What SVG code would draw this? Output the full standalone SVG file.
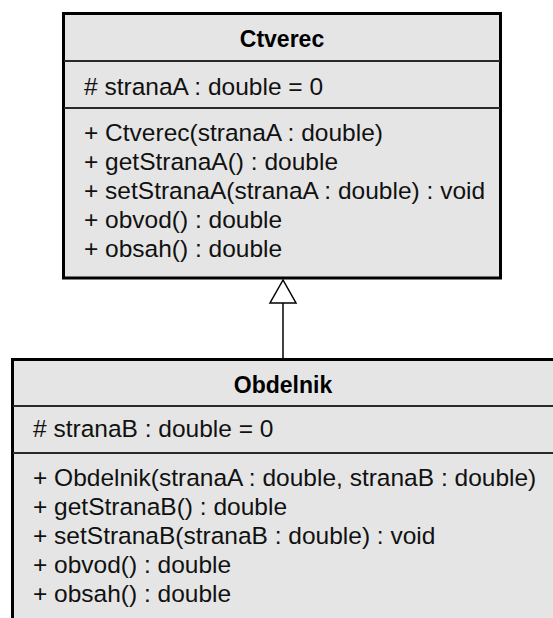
<svg xmlns="http://www.w3.org/2000/svg" width="553" height="618" viewBox="0 0 553 618">
  <style>
    .box { fill: #e5e5e5; stroke: #000; stroke-width: 3; }
    .sep { stroke: #2a2a2a; stroke-width: 2; }
    .name { font-family: "Liberation Sans", Arial, sans-serif; font-size: 23px; font-weight: bold; fill: #000; text-anchor: middle; }
    .member { font-family: "Liberation Sans", Arial, sans-serif; font-size: 24.5px; fill: #111; }
    .link { stroke: #000; stroke-width: 1.5; fill: none; }
    .head { stroke: #000; stroke-width: 1.5; fill: #fff; }
  </style>
  <rect width="553" height="618" fill="#fff"/>

  <!-- Parent class -->
  <g id="ctverec">
    <rect class="box" x="63.5" y="13.5" width="437" height="264.5"/>
    <line class="sep" x1="64" y1="61" x2="500" y2="61"/>
    <line class="sep" x1="64" y1="108" x2="500" y2="108"/>
    <text class="name" x="282" y="47">Ctverec</text>
    <text class="member" x="84" y="95"># stranaA : double = 0</text>
    <text class="member" x="84" y="141">+ Ctverec(stranaA : double)</text>
    <text class="member" x="84" y="170">+ getStranaA() : double</text>
    <text class="member" x="84" y="199">+ setStranaA(stranaA : double) : void</text>
    <text class="member" x="84" y="228">+ obvod() : double</text>
    <text class="member" x="84" y="257">+ obsah() : double</text>
  </g>

  <!-- Child class -->
  <g id="obdelnik">
    <rect class="box" x="12.5" y="359.5" width="542" height="270"/>
    <line class="sep" x1="13" y1="406" x2="553" y2="406"/>
    <line class="sep" x1="13" y1="453" x2="553" y2="453"/>
    <text class="name" x="283" y="393">Obdelnik</text>
    <text class="member" x="33" y="437"># stranaB : double = 0</text>
    <text class="member" x="33" y="486">+ Obdelnik(stranaA : double, stranaB : double)</text>
    <text class="member" x="33" y="515">+ getStranaB() : double</text>
    <text class="member" x="33" y="544">+ setStranaB(stranaB : double) : void</text>
    <text class="member" x="33" y="573">+ obvod() : double</text>
    <text class="member" x="33" y="602">+ obsah() : double</text>
  </g>

  <!-- Generalization -->
  <g id="connectors">
    <line class="link" x1="283" y1="303" x2="283" y2="358"/>
    <polygon class="head" points="283,280 270,303 296,303"/>
  </g>
</svg>
